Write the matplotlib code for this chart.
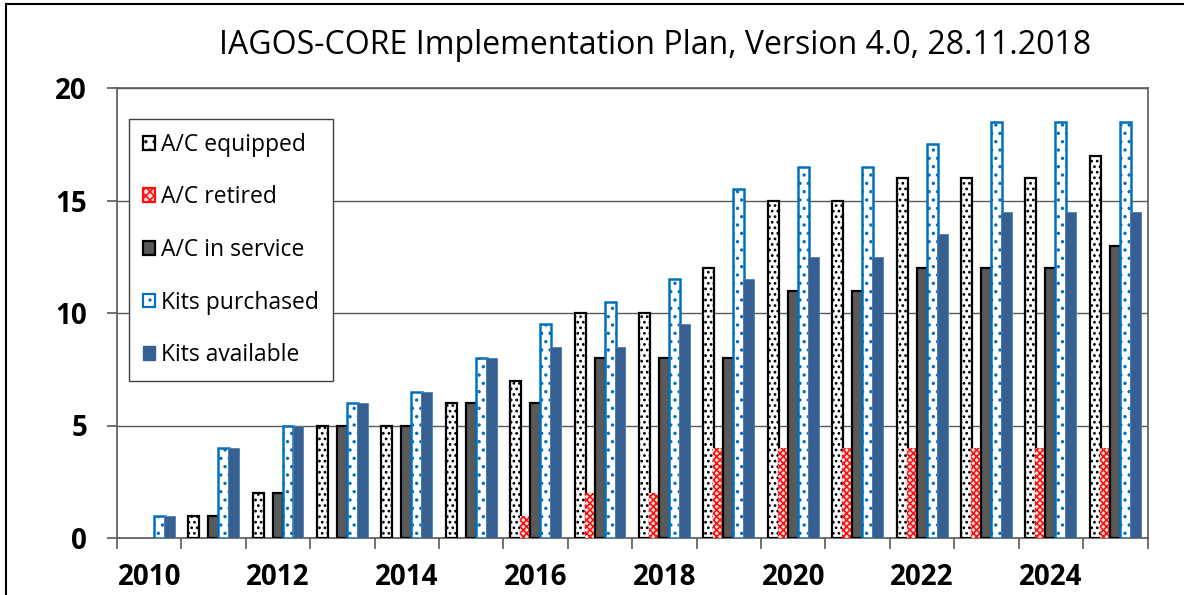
import matplotlib.pyplot as plt
from matplotlib.lines import Line2D
from matplotlib.patches import Patch
import numpy as np

plt.rcParams['font.family'] = ['Open Sans', 'DejaVu Sans']
plt.rcParams['hatch.linewidth'] = 1.2

"""Implementation plan numbers, one value per year"""
years = list(range(2010, 2026))
ac_equipped = [0, 1, 2, 5, 5, 6, 7, 10, 10, 12, 15, 15, 16, 16, 16, 17]
ac_retired = [0, 0, 0, 0, 0, 0, 1, 2, 2, 4, 4, 4, 4, 4, 4, 4]
ac_service = [0, 1, 2, 5, 5, 6, 6, 8, 8, 8, 11, 11, 12, 12, 12, 13]
kits_purchased = [1, 4, 5, 6, 6.5, 8, 9.5, 10.5, 11.5, 15.5, 16.5, 16.5, 17.5, 18.5, 18.5, 18.5]
kits_available = [1, 4, 5, 6, 6.5, 8, 8.5, 8.5, 9.5, 11.5, 12.5, 12.5, 13.5, 14.5, 14.5, 14.5]

labels = ["A/C equipped", "A/C retired", "A/C in service", "Kits purchased", "Kits available"]

blue_edge = '#0070C0'
kit_blue = '#376092'
grey = '#595959'

fig = plt.figure(figsize=(11.84, 5.95), dpi=100)
ax = fig.add_axes([117/1184, 1 - 538/595, (1147.5 - 117)/1184, (538 - 88)/595])

x = np.arange(len(years))
w = 0.17
step = 0.155
offs = [-2*step, -step, 0, step, 2*step]


def draw(k, vals, **kw):
    # zero values get no bar at all (excel draws nothing there)
    vals = np.array(vals, dtype=float)
    m = vals > 0
    ax.bar(x[m] + offs[k], vals[m], w, zorder=3, **kw)


draw(0, ac_equipped, facecolor='white', edgecolor='black', linewidth=1.6, hatch='...')
draw(1, ac_retired, facecolor='#FFE0E0', edgecolor='#FF1010', linewidth=0, hatch='xxxxx')
draw(2, ac_service, facecolor=grey, edgecolor='black', linewidth=1.6)
draw(3, kits_purchased, facecolor='white', edgecolor=blue_edge, linewidth=1.8, hatch='..')
draw(4, kits_available, facecolor=kit_blue, edgecolor='#4F7DB5', linewidth=0.6)

ax.set_xlim(-0.5, len(years) - 0.5)
ax.set_ylim(0, 20)
ax.set_yticks([0, 5, 10, 15, 20])
ax.yaxis.grid(True, color=grey, linewidth=1.0, zorder=0)
ax.set_axisbelow(True)

# major ticks on category borders, labels on the centres (every 2nd year)
ax.set_xticks(np.arange(-0.5, len(years), 1.0))
ax.set_xticklabels([])
ax.set_xticks(x[::2], minor=True)
ax.set_xticklabels([str(y) for y in years[::2]], minor=True)
ax.tick_params(axis='x', which='major', length=8, width=1.2, color=grey, direction='out')
ax.tick_params(axis='x', which='minor', length=0, pad=18, labelsize=20)
ax.tick_params(axis='y', length=7.5, width=1.2, color=grey, pad=14, labelsize=20)
for t in ax.get_xticklabels(minor=True) + ax.get_yticklabels():
    t.set_fontweight('bold')

for s in ax.spines.values():
    s.set_color(grey)
    s.set_linewidth(1.2)

handles = [
    Patch(facecolor='white', edgecolor='black', hatch='..', linewidth=1.6),
    Patch(facecolor='#FFE0E0', edgecolor='#FF1010', hatch='xxxx', linewidth=1.6),
    Patch(facecolor=grey, edgecolor='black', linewidth=1.6),
    Patch(facecolor='white', edgecolor=blue_edge, hatch='..', linewidth=1.6),
    Patch(facecolor=kit_blue, edgecolor=kit_blue, linewidth=1.0),
]
leg = ax.legend(handles, labels, loc='upper left', bbox_to_anchor=(129/1184, 1 - 119/595),
                bbox_transform=fig.transFigure, fontsize=16.5, frameon=True, fancybox=False,
                edgecolor='#404040', framealpha=1, borderaxespad=0, labelspacing=1.25,
                handlelength=0.55, handleheight=0.55, handletextpad=0.25, borderpad=0.6)
leg.get_frame().set_linewidth(1.0)
leg.set_zorder(5)

fig.text(655/1184, 1 - 54.5/595, "IAGOS-CORE Implementation Plan, Version 4.0, 28.11.2018",
         ha='center', va='baseline', fontsize=23)

# outer chart frame
fig.add_artist(Line2D([6/1184, 6/1184], [1 - 4/595, -0.1], transform=fig.transFigure, color='black', linewidth=1.5))
fig.add_artist(Line2D([6/1184, 1.1], [1 - 4/595, 1 - 4/595], transform=fig.transFigure, color='black', linewidth=1.5))

fig.savefig("out.png", dpi=100)
